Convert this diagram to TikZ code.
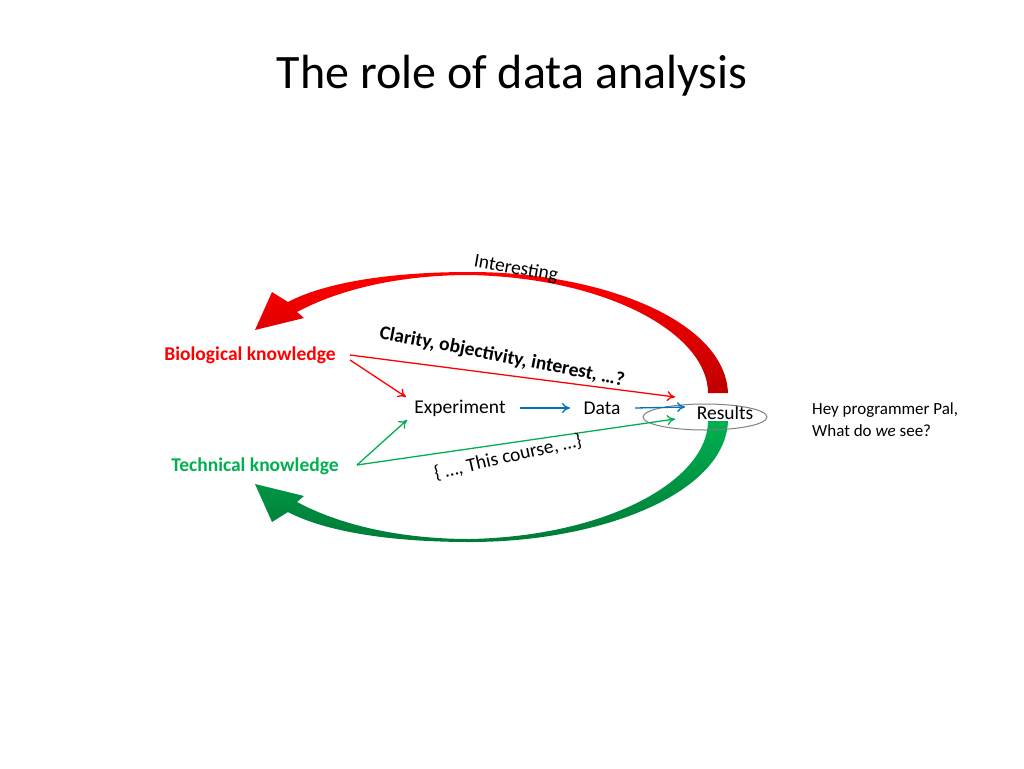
\documentclass[tikz,border=0pt]{standalone}
\usepackage{fontspec}
\setmainfont{Carlito}
\usetikzlibrary{shapes.geometric,arrows.meta}
\begin{document}
\begin{tikzpicture}[x=1pt,y=-1pt,
 lbl/.style={inner sep=0pt,font=\fontsize{19.5}{23}\selectfont},
 thin arr/.style={-{To[length=8pt,width=10pt]},line width=1.3pt}]
\useasboundingbox (0,0) rectangle (1024,768);
\definecolor{rd}{RGB}{255,0,0}
\definecolor{gn}{RGB}{0,176,80}
\definecolor{bl}{RGB}{0,112,192}
\node[inner sep=0pt,font=\fontsize{48}{56}\selectfont] (title) at (512,76) {The role of data analysis};
% big red arrow
\shade[left color=rd,right color=rd!75!black,shading angle=0]
 (708,393) -- (728,393) .. controls (725,320) and (600,272) .. (470,272)
 .. controls (380,272) and (320,285) .. (288,302) -- (272,292) -- (255,330) -- (304,318) -- (297,312)
 .. controls (340,289) and (400,275) .. (470,275) .. controls (610,278) and (708,335) .. (708,393) -- cycle;
% big green arrow
\shade[left color=gn,right color=gn!70!black,shading angle=0]
 (708,421) -- (728,421) .. controls (725,494) and (600,542) .. (470,542)
 .. controls (380,542) and (320,529) .. (288,512) -- (272,522) -- (255,484) -- (304,496) -- (297,502)
 .. controls (340,525) and (400,539) .. (470,539) .. controls (610,536) and (708,479) .. (708,421) -- cycle;
\node[lbl,text=rd,font=\bfseries\fontsize{19.5}{23}\selectfont] (bio) at (250,355) {Biological knowledge};
\node[lbl,text=gn,font=\bfseries\fontsize{19.5}{23}\selectfont] (tech) at (255,466) {Technical knowledge};
\node[lbl] (exp) at (460,408) {Experiment};
\node[lbl] (data) at (602,408) {Data};
\node[lbl] (res) at (725,413) {Results};
\node[draw=gray,line width=1pt,ellipse,minimum width=124pt,minimum height=26pt,inner sep=0pt] (ell) at (705,417) {};
\node[inner sep=0pt,anchor=west,align=left,font=\fontsize{17}{22}\selectfont] (hey) at (812,420) {Hey programmer Pal,\\What do \emph{we} see?};
\coordinate (b1) at (350,355); \coordinate (b2) at (350,360);
\coordinate (t1) at (357,465);
\coordinate (rtop) at (675,397); \coordinate (rbot) at (675,419);
\coordinate (expin1) at (406,397); \coordinate (expin2) at (407,420);
\coordinate (e1) at (520,408); \coordinate (d1) at (570,408);
\coordinate (d2) at (635,408); \coordinate (r1) at (685,407);
\draw[thin arr,rd] (b1) -- (rtop);
\draw[thin arr,rd] (b2) -- (expin1);
\draw[thin arr,gn] (t1) -- (expin2);
\draw[thin arr,gn] (t1) -- (rbot);
\draw[thin arr,bl] (e1) -- (d1);
\draw[thin arr,bl] (d2) -- (r1);
\node[lbl,rotate=-11,font=\bfseries\fontsize{19.5}{23}\selectfont] (clar) at (502,357) {Clarity, objectivity, interest, …?};
\node[lbl,rotate=13] (course) at (508,457) {\{ …, This course, …\}};
\node[lbl,rotate=-10] (int) at (516,269) {Interesting};
\end{tikzpicture}
\end{document}
